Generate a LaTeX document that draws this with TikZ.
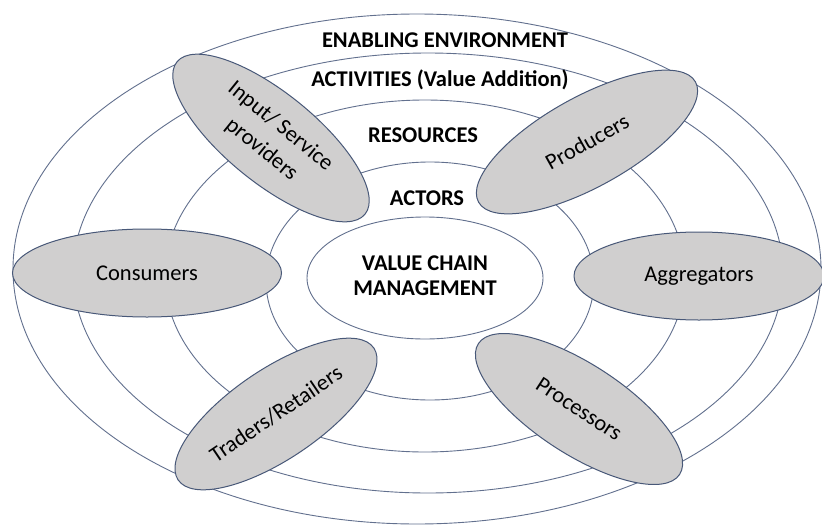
\documentclass[tikz,border=0pt]{standalone}
\usepackage{fontspec}
\setmainfont{Carlito}
\usetikzlibrary{shapes.geometric}
\definecolor{ringline}{RGB}{98,112,142}
\definecolor{actorline}{RGB}{72,88,120}
\definecolor{actorfill}{RGB}{208,207,207}
\begin{document}
\begin{tikzpicture}[x=1pt,y=-1pt,
  ring/.style={ellipse, draw=ringline, line width=0.9pt, inner sep=0pt, outer sep=0pt},
  actor/.style={ellipse, draw=actorline, fill=actorfill, line width=1pt,
    inner sep=0pt, outer sep=0pt, align=center, font=\fontsize{22.5}{30}\selectfont},
  band/.style={font=\bfseries\fontsize{22.5}{25}\selectfont, inner sep=0pt}]
\useasboundingbox (0,0) rectangle (822,525);
\fill[white] (0,0) rectangle (822,525);

% concentric layers of the value chain
\node[ring, minimum width=808pt, minimum height=510pt] (env) at (417,269) {};
\node[ring, minimum width=710pt, minimum height=440pt] (act) at (428,273) {};
\node[ring, minimum width=520pt, minimum height=352pt] (res) at (425,276) {};
\node[ring, minimum width=328pt, minimum height=238pt] (actr) at (430,281) {};
\node[ring, minimum width=236pt, minimum height=122pt] (core) at (425,278) {};

% layer titles
\node[band] (tenv) at (445,40) {ENABLING ENVIRONMENT};
\node[band] (tact) at (440,80) {ACTIVITIES (Value Addition)};
\node[band] (tres) at (423,135) {RESOURCES};
\node[band] (tactr) at (427,198) {ACTORS};
\node[band, align=center] (tcore) at (425,276) {VALUE CHAIN\\MANAGEMENT};

% value chain actors
\node[actor, minimum width=242pt, minimum height=90pt, rotate=-39] (input) at (271,138) {Input/ Service\\providers};
\node[actor, minimum width=248pt, minimum height=90pt, rotate=29] (prod) at (587,142) {Producers};
\node[actor, minimum width=250pt, minimum height=88pt] (aggr) at (699,276) {Aggregators};
\node[actor, minimum width=240pt, minimum height=90pt, rotate=-33] (proc) at (579,409) {Processors};
\node[actor, minimum width=236pt, minimum height=90pt, rotate=34] (trad) at (276,414) {Traders/Retailers};
\node[actor, minimum width=269pt, minimum height=88pt] (cons) at (147,273) {Consumers};
\end{tikzpicture}
\end{document}
